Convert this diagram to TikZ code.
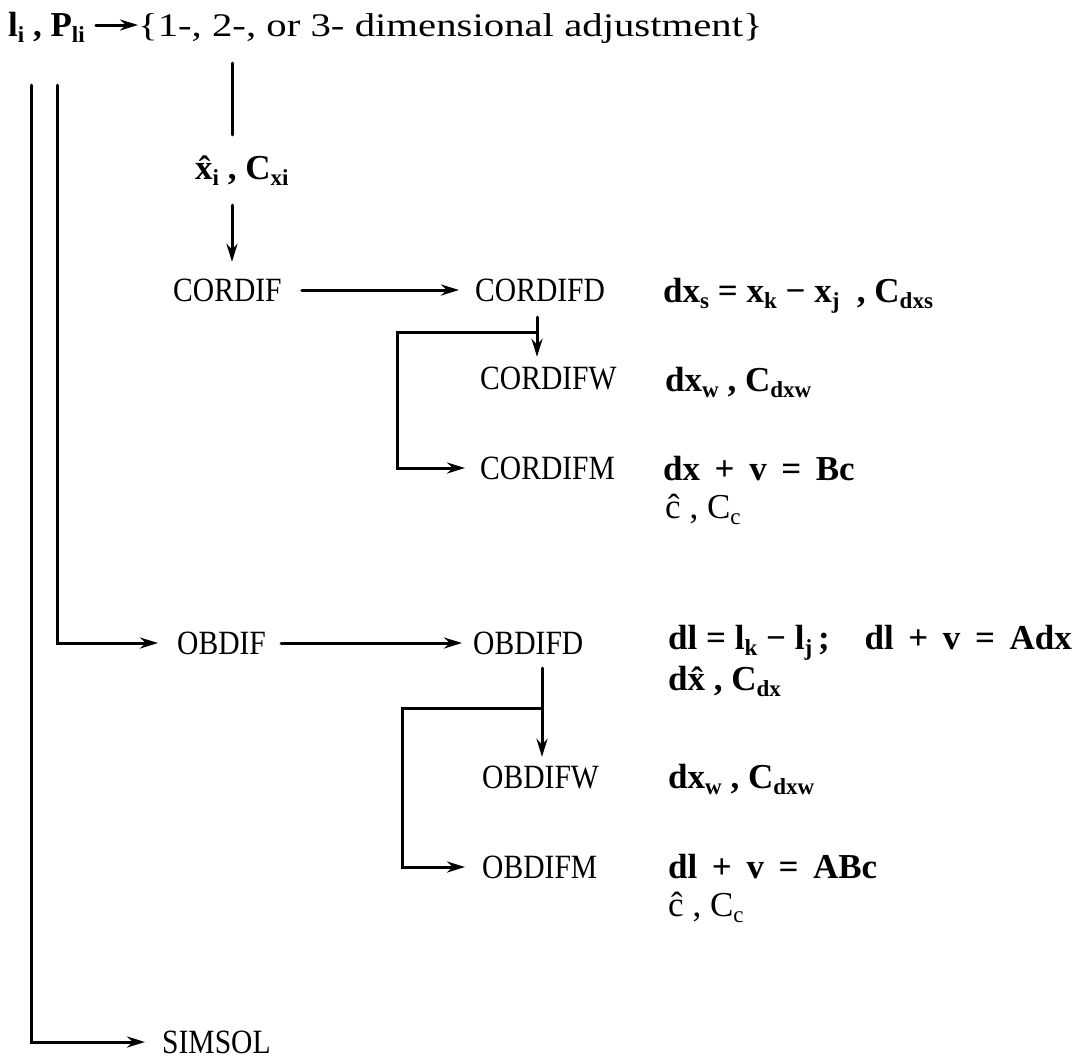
\documentclass[tikz,border=0pt]{standalone}
\usepackage{fontspec}
\setmainfont{Liberation Serif}[FakeStretch=0.87]
\newfontfamily\eqfont{Liberation Serif}
\usetikzlibrary{arrows.meta}
\newcommand\fsz{\fontsize{34}{40}\selectfont}
\newcommand\efsz{\eqfont\fontsize{35}{40}\selectfont}
\newcommand\sbs[1]{\raisebox{-6pt}{\fontsize{23}{26}\selectfont #1}}
\tikzset{
  lbl/.style={anchor=base west, inner sep=0pt, text height=22pt, text depth=0pt, font=\fsz},
  eqn/.style={lbl, font=\efsz\bfseries},
  eqm/.style={lbl, font=\efsz},
  ln/.style={line width=3pt, line cap=round},
  arr/.style={ln, -{Stealth[length=18pt,width=11pt]}},
}
\begin{document}
\begin{tikzpicture}[x=1pt,y=-1pt]
\useasboundingbox[fill=white] (0,0) rectangle (1091,1061);
% text nodes (x = text start, y = baseline = centre + 11)
\node[lbl, font=\efsz\bfseries] (lp) at (8,36) {l\sbs{i} , P\sbs{li}};
\node[lbl] (adj) at (138,36) {\scalebox{1.42}[1]{\fontsize{33}{38}\selectfont\{1-, 2-, or 3- dimensional adjustment\}}};
\node[lbl, font=\efsz\bfseries] (xh) at (195,179) {\^x\sbs{i} , C\sbs{xi}};
\node[lbl] (cordif) at (173,301) {CORDIF};
\node[lbl] (cordifd) at (475,301) {CORDIFD};
\node[eqn] (e1) at (663,302) {dx\sbs{s} = x\sbs{k} \textminus\ x\sbs{j}\ \ , C\sbs{dxs}};
\node[lbl] (cordifw) at (480,389) {CORDIFW};
\node[eqn] (e2) at (665,391) {dx\sbs{w} , C\sbs{dxw}};
\node[lbl] (cordifm) at (480,479) {CORDIFM};
\node[eqn] (e3) at (663,480) {dx \,+\, v \,=\, Bc};
\node[eqm] (e3b) at (665,518) {\^c , C\sbs{c}};
\node[lbl] (obdif) at (177,654) {OBDIF};
\node[lbl] (obdifd) at (473,654) {OBDIFD};
\node[eqn] (e4) at (668,649) {dl = l\sbs{k} \textminus\ l\sbs{j}\,;\ \ \ \ dl \,+\, v \,=\, Adx};
\node[eqn] (e4b) at (668,690) {d\^x , C\sbs{dx}};
\node[lbl] (obdifw) at (482,788) {OBDIFW};
\node[eqn] (e5) at (668,788) {dx\sbs{w} , C\sbs{dxw}};
\node[lbl] (obdifm) at (482,878) {OBDIFM};
\node[eqn] (e6) at (668,878) {dl \,+\, v \,=\, ABc};
\node[eqm] (e6b) at (668,916) {\^c , C\sbs{c}};
\node[lbl] (simsol) at (162,1053) {SIMSOL};
% helper coordinates
\coordinate (vx) at (232,0);
\coordinate (o1) at (31,85);
\coordinate (o2) at (57,85);
\coordinate (j1) at (537,332);
\coordinate (j2) at (542,708);
% connectors
\draw[arr, shorten <=11pt] (lp.east) -- (adj.west);
\draw[ln, shorten <=27pt, shorten >=22pt] (adj.south -| vx) -- (xh.north -| vx);
\draw[arr, shorten <=26pt, shorten >=17pt] (xh.south -| vx) -- (cordif.north -| vx);
\draw[arr, shorten <=20pt, shorten >=16pt] (cordif.east) -- (cordifd.west);
\draw[arr, shorten <=16pt, shorten >=10pt] (cordifd.south -| j1) -- (cordifw.north -| j1);
\draw[arr, shorten >=15pt] (j1) -- ++(-140,0) |- (cordifm.west);
\draw[arr, shorten >=17pt] (o1) |- (simsol.west);
\draw[arr, shorten >=19pt] (o2) |- (obdif.west);
\draw[arr, shorten <=15pt, shorten >=11pt] (obdif.east) -- (obdifd.west);
\draw[arr, shorten <=14pt, shorten >=9pt] (obdifd.south -| j2) -- (obdifw.north -| j2);
\draw[arr, shorten >=17pt] (j2) -- ++(-140,0) |- (obdifm.west);
\end{tikzpicture}
\end{document}
